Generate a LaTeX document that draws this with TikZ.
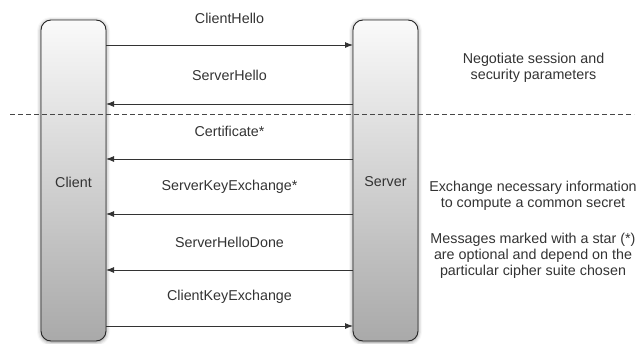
\documentclass[tikz,border=0pt]{standalone}
\usepackage{fontspec}
\setmainfont{Liberation Sans}
\usetikzlibrary{arrows.meta,shadows.blur}
\definecolor{ink}{HTML}{333333}
\definecolor{boxtop}{HTML}{FAFAFA}
\definecolor{boxbot}{HTML}{A9A9A9}
\tikzset{
  party/.style={draw=black!85, line width=0.9pt, rounded corners=10pt,
    top color=boxtop, bottom color=boxbot,
    blur shadow={shadow xshift=0pt, shadow yshift=-1pt, shadow blur radius=4pt, shadow opacity=50}},
  msg/.style={draw=ink, line width=0.9pt, -{Latex[length=8pt,width=6pt]}},
  lbl/.style={text=ink, font=\fontsize{14.3}{16}\selectfont, inner sep=0pt},
  note/.style={lbl, align=center},
  sep/.style={draw=ink!90, line width=0.9pt, dash pattern=on 5pt off 3pt}
}
\begin{document}
\begin{tikzpicture}[x=1pt, y=-1pt]
  \useasboundingbox (0,0) rectangle (640,343);

  % the two parties
  \path[party] (41,20) rectangle (106,341);
  \path[party] (353,20) rectangle (418,341);
  \node[lbl] (client) at (73.5,182) {Client};
  \node[lbl] (server) at (385.5,182) {Server};

  % anchor points on the box edges for the messages
  \foreach \n/\y in {a/45, b/104, c/159, d/214, e/270, f/326} {
    \coordinate (c\n) at (106,\y);
    \coordinate (s\n) at (353,\y);
  }

  % messages
  \draw[msg] (ca) -- (sa);
  \draw[msg] (sb) -- (cb);
  \draw[msg] (sc) -- (cc);
  \draw[msg] (sd) -- (cd);
  \draw[msg] (se) -- (ce);
  \draw[msg] (cf) -- (sf);

  \node[lbl] (mA) at (229.5,18.5) {ClientHello};
  \node[lbl] (mB) at (229.5,75.5) {ServerHello};
  \node[lbl] (mC) at (229.5,131.5) {Certificate*};
  \node[lbl] (mD) at (229.5,186.5) {ServerKeyExchange*};
  \node[lbl] (mE) at (229.5,242) {ServerHelloDone};
  \node[lbl] (mF) at (229.5,297) {ClientKeyExchange};

  % phase separator
  \coordinate (sepL) at (10,114.5);
  \coordinate (sepR) at (634,114.5);
  \draw[sep] (sepL) -- (sepR);

  % notes
  \node[note] (n1) at (533.5,68) {Negotiate session and\\security parameters};
  \node[note] (n2) at (533,196) {Exchange necessary information\\to compute a common secret};
  \node[note] (n3) at (533,256) {Messages marked with a star (*)\\are optional and depend on the\\particular cipher suite chosen};
\end{tikzpicture}
\end{document}
